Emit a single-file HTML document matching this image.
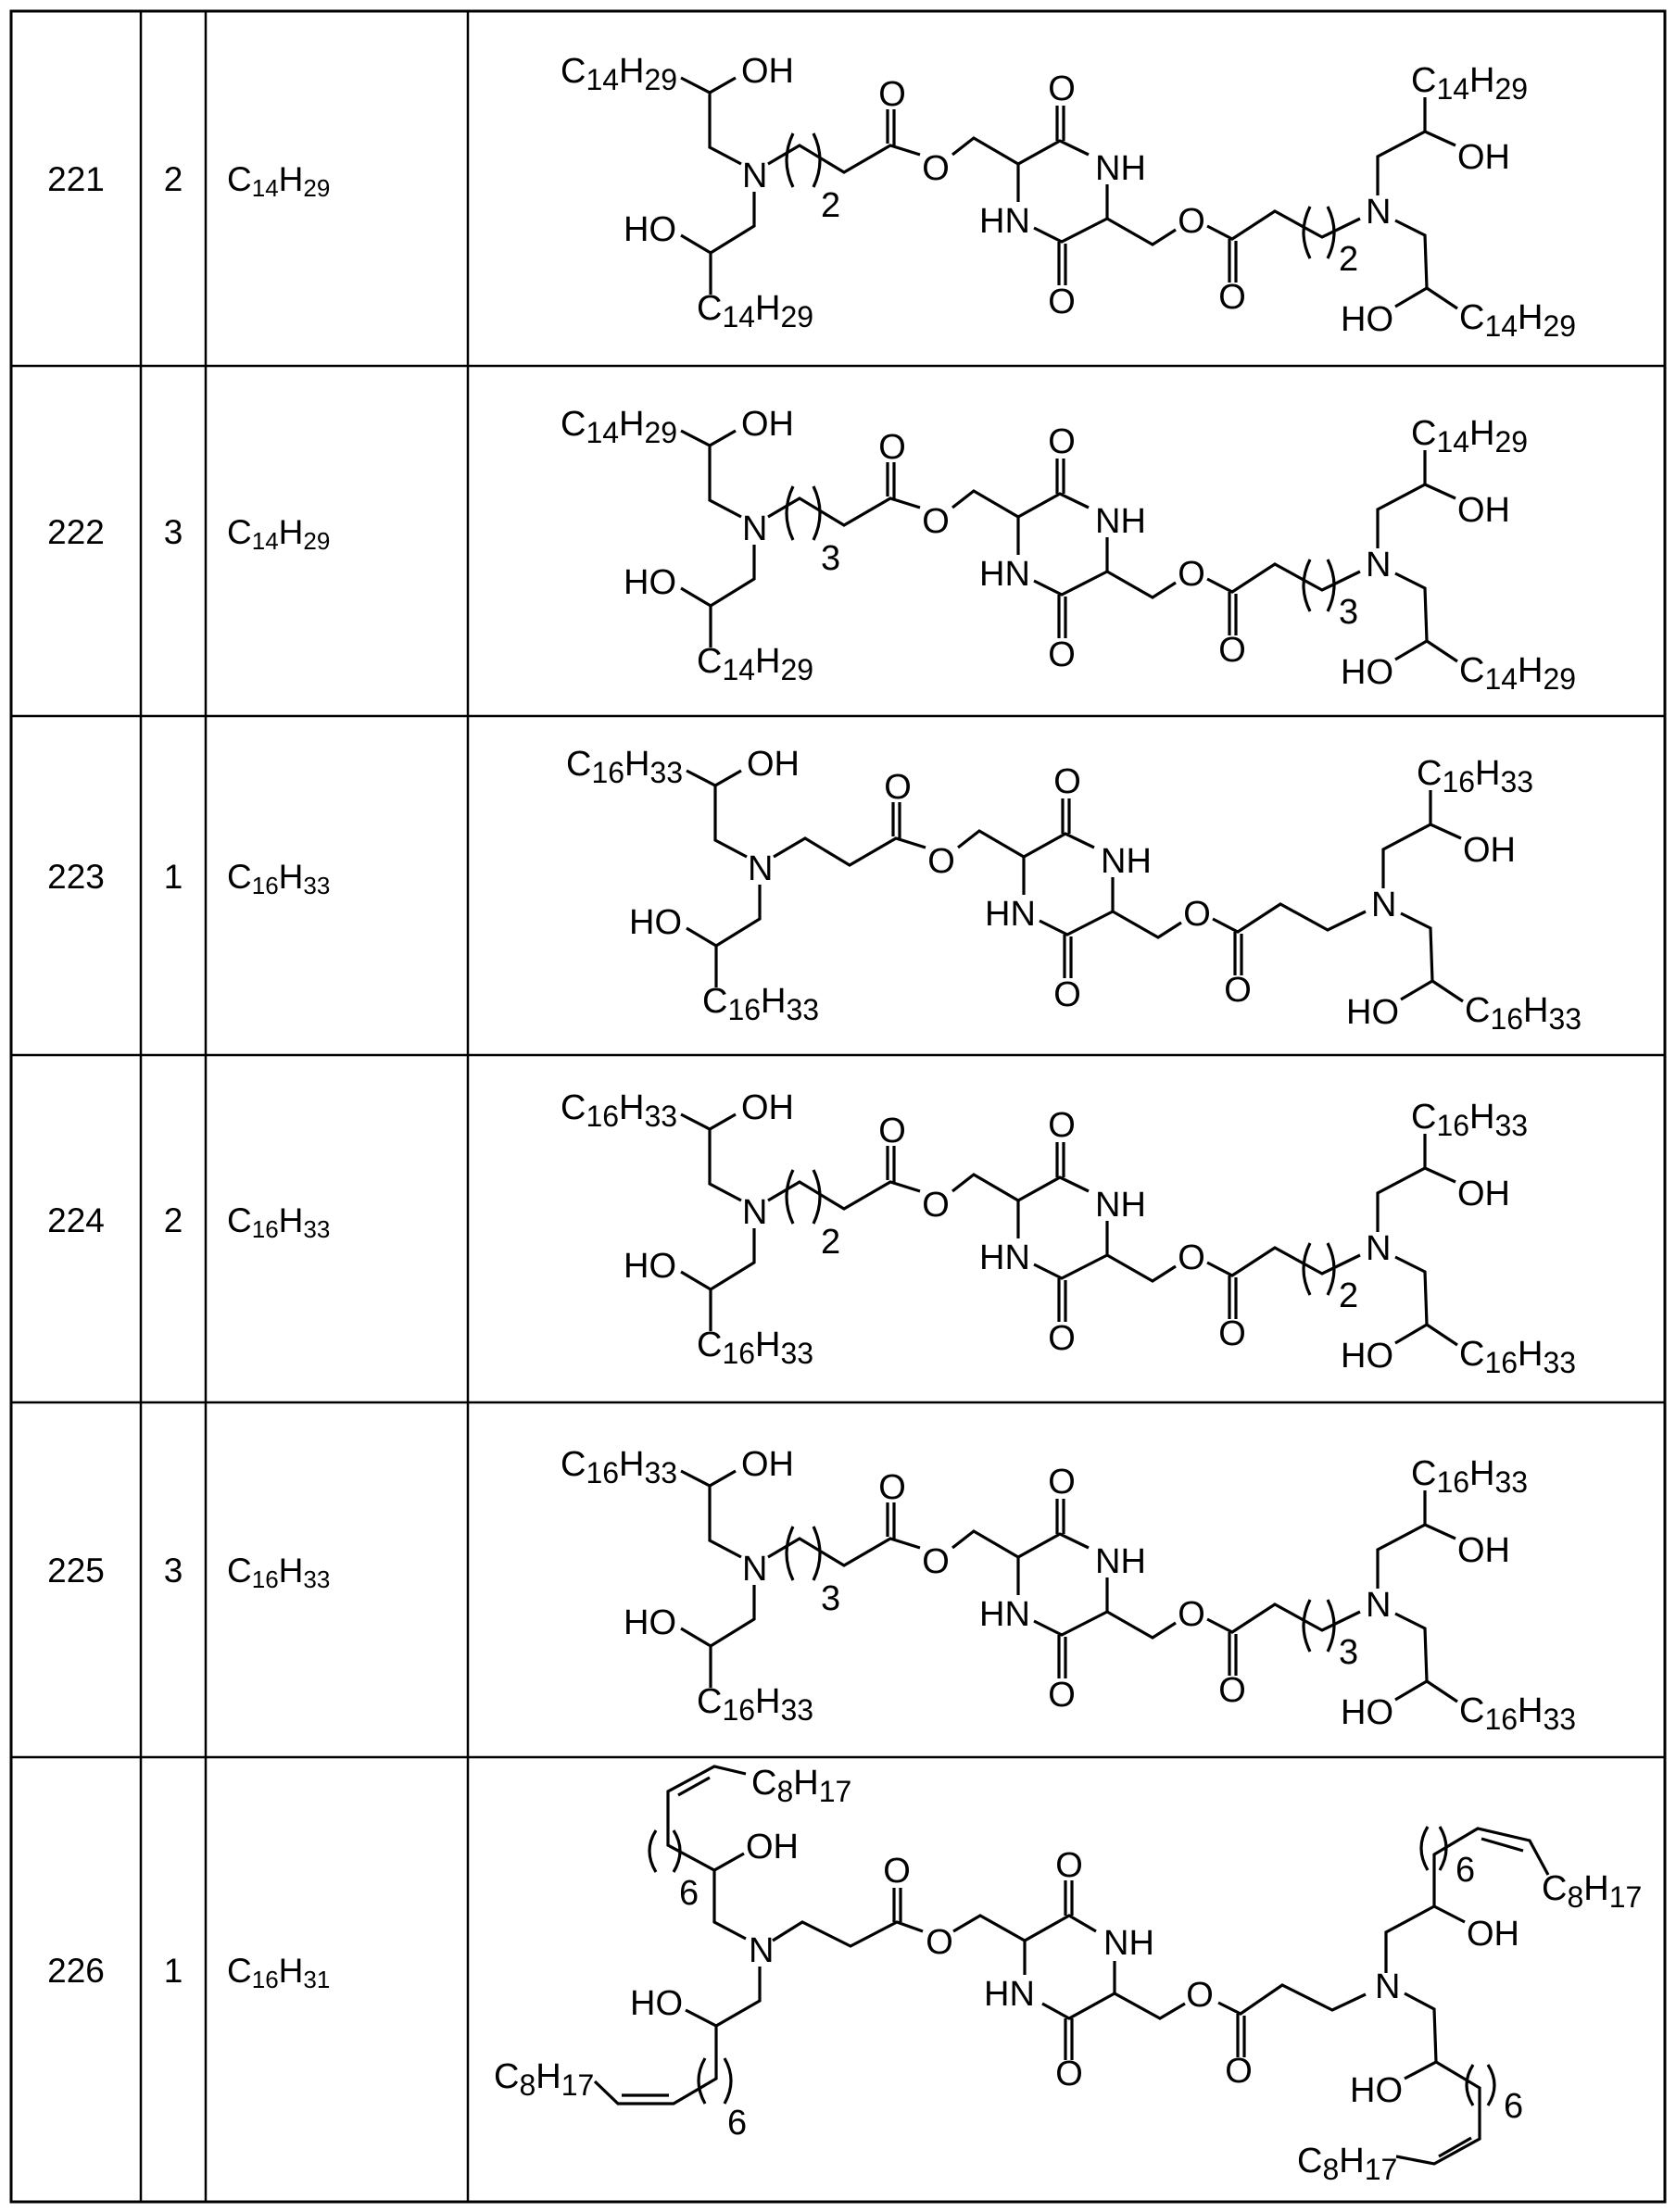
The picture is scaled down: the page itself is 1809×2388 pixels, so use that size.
<!DOCTYPE html>
<html><head><meta charset="utf-8"><style>
html,body{margin:0;padding:0;background:#fff;}
svg{display:block;}
text{font-family:"Liberation Sans",Arial,sans-serif;fill:#000;}
.a{font-size:38px;}
.t{font-size:37px;}
.b{fill:none;stroke:#000;stroke-width:3.2;stroke-linecap:butt;stroke-linejoin:miter;}
</style></head><body>
<svg width="1809" height="2388" viewBox="0 0 1809 2388" xmlns="http://www.w3.org/2000/svg">
<rect x="0" y="0" width="1809" height="2388" fill="#fff"/>
<defs>
<g id="sk">
<path class="b" d="M735,84 L766,100 L794,84 M766,100 L766,159 L800,177 M814,207 L814,244 L767,273 L735,254 M767,273 L767,318 M829,177 L863,157 L911,186 L961,157 L993,167 M958,155 L958,118 M965,157 L965,118 M1028,167 L1051,149 L1099,177 L1144,152 L1175,167 M1141,152 L1141,114 M1148,152 L1148,114 M1099,177 L1099,218 M1116,246 L1146,261 L1195,236 M1143,261 L1143,308 M1150,263 L1150,308 M1195,199 L1195,236 L1244,264 L1269,248 M1303,244 L1330,258 L1376,228 L1427,256 L1468,236 M1327,258 L1327,305 M1334,260 L1334,305 M1487,211 L1487,169 L1538,142 L1538,105 M1538,142 L1571,157 M1506,238 L1538,254 L1540,311 L1506,331 M1540,311 L1573,333"/>
</g>
<g id="par">
<path class="b" d="M856,144 Q842,173 856,202 M878,144 Q892,173 878,202 M1414,223 Q1400,251 1414,279 M1433,223 Q1447,251 1433,279"/>
</g>
</defs>

<g fill="none" stroke="#000">
<rect x="12" y="12" width="1785" height="2365" stroke-width="3"/>
<path stroke-width="2.5" d="M152,12 V2377 M222,12 V2377 M505,12 V2377 M12,395 H1797 M12,773 H1797 M12,1139 H1797 M12,1514 H1797 M12,1897 H1797"/>
</g>

<g class="t">
<text x="82" y="206" text-anchor="middle">221</text>
<text x="187" y="206" text-anchor="middle">2</text>
<text x="245" y="206">C<tspan font-size="26" dy="6">14</tspan><tspan dy="-6">H</tspan><tspan font-size="26" dy="6">29</tspan></text>
<text x="82" y="587" text-anchor="middle">222</text>
<text x="187" y="587" text-anchor="middle">3</text>
<text x="245" y="587">C<tspan font-size="26" dy="6">14</tspan><tspan dy="-6">H</tspan><tspan font-size="26" dy="6">29</tspan></text>
<text x="82" y="959" text-anchor="middle">223</text>
<text x="187" y="959" text-anchor="middle">1</text>
<text x="245" y="959">C<tspan font-size="26" dy="6">16</tspan><tspan dy="-6">H</tspan><tspan font-size="26" dy="6">33</tspan></text>
<text x="82" y="1330" text-anchor="middle">224</text>
<text x="187" y="1330" text-anchor="middle">2</text>
<text x="245" y="1330">C<tspan font-size="26" dy="6">16</tspan><tspan dy="-6">H</tspan><tspan font-size="26" dy="6">33</tspan></text>
<text x="82" y="1708" text-anchor="middle">225</text>
<text x="187" y="1708" text-anchor="middle">3</text>
<text x="245" y="1708">C<tspan font-size="26" dy="6">16</tspan><tspan dy="-6">H</tspan><tspan font-size="26" dy="6">33</tspan></text>
<text x="82" y="2140" text-anchor="middle">226</text>
<text x="187" y="2140" text-anchor="middle">1</text>
<text x="245" y="2140">C<tspan font-size="26" dy="6">16</tspan><tspan dy="-6">H</tspan><tspan font-size="26" dy="6">31</tspan></text>
</g>

<g transform="translate(0,0)">
<use href="#sk"/><use href="#par"/>
<g class="a">
<text x="605" y="89">C<tspan font-size="32" dy="8">14</tspan><tspan dy="-8">H</tspan><tspan font-size="32" dy="8">29</tspan></text>
<text x="800" y="89">OH</text>
<text x="801" y="202">N</text>
<text x="673" y="260">HO</text>
<text x="752" y="345">C<tspan font-size="32" dy="8">14</tspan><tspan dy="-8">H</tspan><tspan font-size="32" dy="8">29</tspan></text>
<text x="963" y="114" text-anchor="middle">O</text>
<text x="1010" y="194" text-anchor="middle">O</text>
<text x="1146" y="108" text-anchor="middle">O</text>
<text x="1057" y="251">HN</text>
<text x="1146" y="338" text-anchor="middle">O</text>
<text x="1182" y="194">NH</text>
<text x="1286" y="251" text-anchor="middle">O</text>
<text x="1330" y="333" text-anchor="middle">O</text>
<text x="1474" y="241">N</text>
<text x="1523" y="99">C<tspan font-size="32" dy="8">14</tspan><tspan dy="-8">H</tspan><tspan font-size="32" dy="8">29</tspan></text>
<text x="1573" y="182">OH</text>
<text x="1447" y="357">HO</text>
<text x="1575" y="355">C<tspan font-size="32" dy="8">14</tspan><tspan dy="-8">H</tspan><tspan font-size="32" dy="8">29</tspan></text>
<text x="886" y="234">2</text>
<text x="1445" y="292">2</text>
</g></g>

<g transform="translate(0,381)">
<use href="#sk"/><use href="#par"/>
<g class="a">
<text x="605" y="89">C<tspan font-size="32" dy="8">14</tspan><tspan dy="-8">H</tspan><tspan font-size="32" dy="8">29</tspan></text>
<text x="800" y="89">OH</text>
<text x="801" y="202">N</text>
<text x="673" y="260">HO</text>
<text x="752" y="345">C<tspan font-size="32" dy="8">14</tspan><tspan dy="-8">H</tspan><tspan font-size="32" dy="8">29</tspan></text>
<text x="963" y="114" text-anchor="middle">O</text>
<text x="1010" y="194" text-anchor="middle">O</text>
<text x="1146" y="108" text-anchor="middle">O</text>
<text x="1057" y="251">HN</text>
<text x="1146" y="338" text-anchor="middle">O</text>
<text x="1182" y="194">NH</text>
<text x="1286" y="251" text-anchor="middle">O</text>
<text x="1330" y="333" text-anchor="middle">O</text>
<text x="1474" y="241">N</text>
<text x="1523" y="99">C<tspan font-size="32" dy="8">14</tspan><tspan dy="-8">H</tspan><tspan font-size="32" dy="8">29</tspan></text>
<text x="1573" y="182">OH</text>
<text x="1447" y="357">HO</text>
<text x="1575" y="355">C<tspan font-size="32" dy="8">14</tspan><tspan dy="-8">H</tspan><tspan font-size="32" dy="8">29</tspan></text>
<text x="886" y="234">3</text>
<text x="1445" y="292">3</text>
</g></g>

<g transform="translate(6,748)">
<use href="#sk"/>
<g class="a">
<text x="605" y="89">C<tspan font-size="32" dy="8">16</tspan><tspan dy="-8">H</tspan><tspan font-size="32" dy="8">33</tspan></text>
<text x="800" y="89">OH</text>
<text x="801" y="202">N</text>
<text x="673" y="260">HO</text>
<text x="752" y="345">C<tspan font-size="32" dy="8">16</tspan><tspan dy="-8">H</tspan><tspan font-size="32" dy="8">33</tspan></text>
<text x="963" y="114" text-anchor="middle">O</text>
<text x="1010" y="194" text-anchor="middle">O</text>
<text x="1146" y="108" text-anchor="middle">O</text>
<text x="1057" y="251">HN</text>
<text x="1146" y="338" text-anchor="middle">O</text>
<text x="1182" y="194">NH</text>
<text x="1286" y="251" text-anchor="middle">O</text>
<text x="1330" y="333" text-anchor="middle">O</text>
<text x="1474" y="241">N</text>
<text x="1523" y="99">C<tspan font-size="32" dy="8">16</tspan><tspan dy="-8">H</tspan><tspan font-size="32" dy="8">33</tspan></text>
<text x="1573" y="182">OH</text>
<text x="1447" y="357">HO</text>
<text x="1575" y="355">C<tspan font-size="32" dy="8">16</tspan><tspan dy="-8">H</tspan><tspan font-size="32" dy="8">33</tspan></text>
</g></g>

<g transform="translate(0,1119)">
<use href="#sk"/><use href="#par"/>
<g class="a">
<text x="605" y="89">C<tspan font-size="32" dy="8">16</tspan><tspan dy="-8">H</tspan><tspan font-size="32" dy="8">33</tspan></text>
<text x="800" y="89">OH</text>
<text x="801" y="202">N</text>
<text x="673" y="260">HO</text>
<text x="752" y="345">C<tspan font-size="32" dy="8">16</tspan><tspan dy="-8">H</tspan><tspan font-size="32" dy="8">33</tspan></text>
<text x="963" y="114" text-anchor="middle">O</text>
<text x="1010" y="194" text-anchor="middle">O</text>
<text x="1146" y="108" text-anchor="middle">O</text>
<text x="1057" y="251">HN</text>
<text x="1146" y="338" text-anchor="middle">O</text>
<text x="1182" y="194">NH</text>
<text x="1286" y="251" text-anchor="middle">O</text>
<text x="1330" y="333" text-anchor="middle">O</text>
<text x="1474" y="241">N</text>
<text x="1523" y="99">C<tspan font-size="32" dy="8">16</tspan><tspan dy="-8">H</tspan><tspan font-size="32" dy="8">33</tspan></text>
<text x="1573" y="182">OH</text>
<text x="1447" y="357">HO</text>
<text x="1575" y="355">C<tspan font-size="32" dy="8">16</tspan><tspan dy="-8">H</tspan><tspan font-size="32" dy="8">33</tspan></text>
<text x="886" y="234">2</text>
<text x="1445" y="292">2</text>
</g></g>

<g transform="translate(0,1504)">
<use href="#sk"/><use href="#par"/>
<g class="a">
<text x="605" y="89">C<tspan font-size="32" dy="8">16</tspan><tspan dy="-8">H</tspan><tspan font-size="32" dy="8">33</tspan></text>
<text x="800" y="89">OH</text>
<text x="801" y="202">N</text>
<text x="673" y="260">HO</text>
<text x="752" y="345">C<tspan font-size="32" dy="8">16</tspan><tspan dy="-8">H</tspan><tspan font-size="32" dy="8">33</tspan></text>
<text x="963" y="114" text-anchor="middle">O</text>
<text x="1010" y="194" text-anchor="middle">O</text>
<text x="1146" y="108" text-anchor="middle">O</text>
<text x="1057" y="251">HN</text>
<text x="1146" y="338" text-anchor="middle">O</text>
<text x="1182" y="194">NH</text>
<text x="1286" y="251" text-anchor="middle">O</text>
<text x="1330" y="333" text-anchor="middle">O</text>
<text x="1474" y="241">N</text>
<text x="1523" y="99">C<tspan font-size="32" dy="8">16</tspan><tspan dy="-8">H</tspan><tspan font-size="32" dy="8">33</tspan></text>
<text x="1573" y="182">OH</text>
<text x="1447" y="357">HO</text>
<text x="1575" y="355">C<tspan font-size="32" dy="8">16</tspan><tspan dy="-8">H</tspan><tspan font-size="32" dy="8">33</tspan></text>
<text x="886" y="234">3</text>
<text x="1445" y="292">3</text>
</g></g>

<g>
<path class="b" d="M805,1915 L771,1907 L721,1934 L721,1992 L771,2019 L803,2001 M766,1919 L732,1938 M771,2019 L771,2075 L805,2093 M834,2095 L866,2075 L918,2101 L968,2075 L996,2085 M965,2075 L965,2038 M972,2075 L972,2038 M1029,2085 L1058,2068 L1106,2095 L1154,2068 L1183,2085 M1106,2095 L1106,2132 M1125,2163 L1154,2179 L1203,2152 M1150,2068 L1150,2030 M1157,2068 L1157,2030 M1150,2179 L1150,2224 M1157,2179 L1157,2224 M1203,2117 L1203,2152 L1252,2179 L1279,2163 M1315,2162 L1339,2174 L1384,2143 L1438,2170 L1474,2153 M1336,2174 L1336,2221 M1343,2176 L1343,2221 M1496,2130 L1496,2086 L1548,2058 L1581,2075 M1548,2058 L1548,2002 L1595,1974 L1651,1987 L1671,2024 M1599,1985 L1644,1998 M1516,2152 L1548,2169 L1550,2226 L1516,2244 M1550,2226 L1597,2254 L1597,2309 L1548,2336 L1507,2328 M1588,2308 L1553,2328 M820,2123 L820,2160 L773,2187 L740,2170 M773,2187 L773,2244 L727,2271 L667,2271 L642,2247 M671,2262 L722,2262 M708,1976 Q694,1998 708,2021 M727,1976 Q741,1998 727,2021 M761,2222 Q747,2246 761,2271 M782,2222 Q796,2246 782,2271 M1541,1972 Q1527,1995 1541,2019 M1554,1972 Q1568,1995 1554,2019 M1590,2229 Q1576,2251 1590,2273 M1606,2229 Q1620,2251 1606,2273"/>
<g class="a">
<text x="811" y="1937">C<tspan font-size="32" dy="8">8</tspan><tspan dy="-8">H</tspan><tspan font-size="32" dy="8">17</tspan></text>
<text x="805" y="2006">OH</text>
<text x="733" y="2056">6</text>
<text x="808" y="2118">N</text>
<text x="680" y="2175">HO</text>
<text x="533" y="2254">C<tspan font-size="32" dy="8">8</tspan><tspan dy="-8">H</tspan><tspan font-size="32" dy="8">17</tspan></text>
<text x="785" y="2304">6</text>
<text x="968" y="2032" text-anchor="middle">O</text>
<text x="1014" y="2109" text-anchor="middle">O</text>
<text x="1154" y="2026" text-anchor="middle">O</text>
<text x="1062" y="2165">HN</text>
<text x="1154" y="2251" text-anchor="middle">O</text>
<text x="1191" y="2110">NH</text>
<text x="1295" y="2166" text-anchor="middle">O</text>
<text x="1337" y="2248" text-anchor="middle">O</text>
<text x="1484" y="2157">N</text>
<text x="1571" y="2031">6</text>
<text x="1664" y="2051">C<tspan font-size="32" dy="8">8</tspan><tspan dy="-8">H</tspan><tspan font-size="32" dy="8">17</tspan></text>
<text x="1583" y="2100">OH</text>
<text x="1457" y="2269">HO</text>
<text x="1623" y="2286">6</text>
<text x="1400" y="2345">C<tspan font-size="32" dy="8">8</tspan><tspan dy="-8">H</tspan><tspan font-size="32" dy="8">17</tspan></text>
</g></g>
</svg>
</body></html>
